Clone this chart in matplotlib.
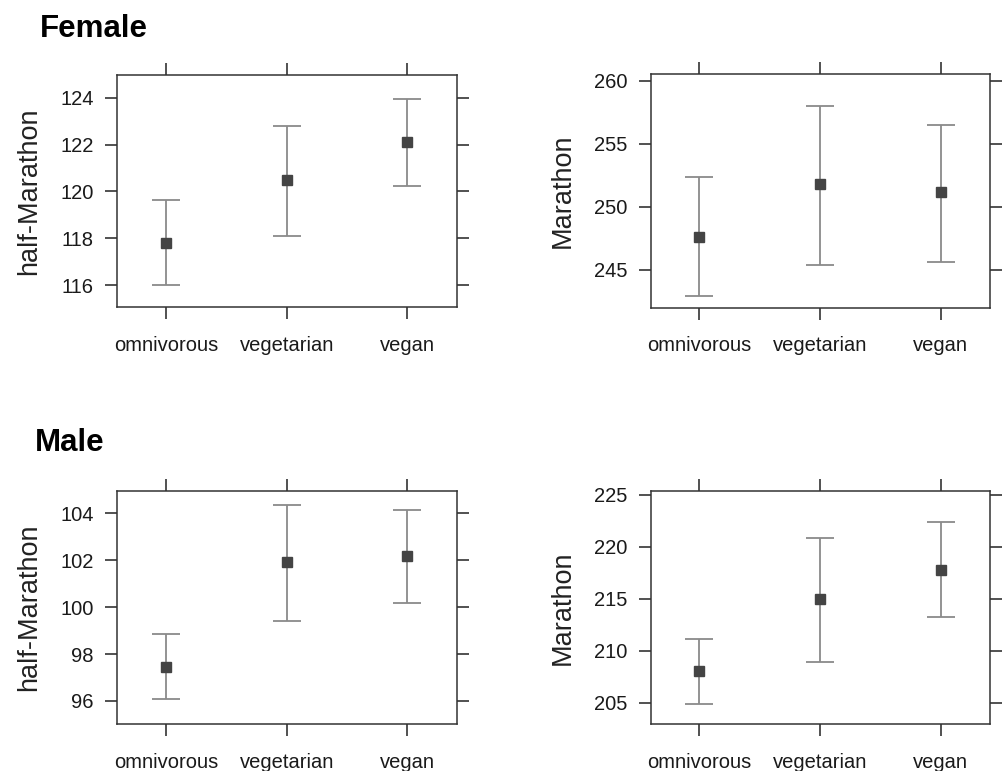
import matplotlib.pyplot as plt

plt.rcParams['font.family'] = ['Liberation Sans', 'DejaVu Sans']

diets = ['omnivorous', 'vegetarian', 'vegan']

# Female
f_half = [117.82, 120.49, 122.10]
f_half_lo = [116.00, 118.10, 120.25]
f_half_hi = [119.62, 122.81, 123.94]
f_full = [247.6, 251.83, 251.19]
f_full_lo = [242.9, 245.37, 245.63]
f_full_hi = [252.37, 258.04, 256.48]

# Male
m_half = [97.45, 101.91, 102.18]
m_half_lo = [96.07, 99.41, 100.18]
m_half_hi = [98.84, 104.34, 104.14]
m_full = [208.05, 215.0, 217.75]
m_full_lo = [204.87, 208.9, 213.2]
m_full_hi = [211.1, 220.86, 222.43]

half_ticks_f = [116, 118, 120, 122, 124]
full_ticks_f = [245, 250, 255, 260]
half_ticks_m = [96, 98, 100, 102, 104]
full_ticks_m = [205, 210, 215, 220, 225]

fig = plt.figure(figsize=(10.04, 7.71), dpi=100)

panels = [
    ([0.1165, 0.6018, 0.3386, 0.3009], f_half, f_half_lo, f_half_hi, half_ticks_f, (115.07, 124.97), 'half-Marathon'),
    ([0.648, 0.6009, 0.338, 0.3027], f_full, f_full_lo, f_full_hi, full_ticks_f, (242.0, 260.53), 'Marathon'),
    ([0.1165, 0.061, 0.3386, 0.3026], m_half, m_half_lo, m_half_hi, half_ticks_m, (95.02, 104.96), 'half-Marathon'),
    ([0.648, 0.061, 0.338, 0.3026], m_full, m_full_lo, m_full_hi, full_ticks_m, (202.95, 225.41), 'Marathon'),
]

x = [1, 2, 3]
for rect, est, lo, hi, ticks, ylim, lab in panels:
    ax = fig.add_axes(rect)
    err = [[e - l for e, l in zip(est, lo)], [h - e for e, h in zip(est, hi)]]
    ax.errorbar(x, est, yerr=err, fmt='none', ecolor='#8a8a8a', elinewidth=1.3,
                capsize=10, capthick=1.3)
    ax.plot(x, est, 's', color='#444444', markersize=7.2, zorder=3)
    ax.set_xlim(0.595, 3.41)
    ax.set_ylim(*ylim)
    ax.set_xticks(x)
    ax.set_xticklabels(diets)
    ax.set_yticks(ticks)
    ax.set_ylabel(lab, fontsize=19.5, color='#222222', labelpad=13)
    ax.tick_params(axis='both', which='both', direction='out', length=8.6, width=1.1,
                   color='#222222', labelsize=14.5, labelcolor='#1a1a1a',
                   top=True, right=True, labeltop=False, labelright=False)
    ax.tick_params(axis='x', pad=12)
    ax.tick_params(axis='y', pad=8)
    for s in ax.spines.values():
        s.set_color('#333333')
        s.set_linewidth(1.1)

fig.text(0.04, 0.962, 'Female', fontsize=22.5, fontweight='bold', va='center', ha='left')
fig.text(0.035, 0.426, 'Male', fontsize=22.5, fontweight='bold', va='center', ha='left')

fig.savefig('out.png', dpi=100)
